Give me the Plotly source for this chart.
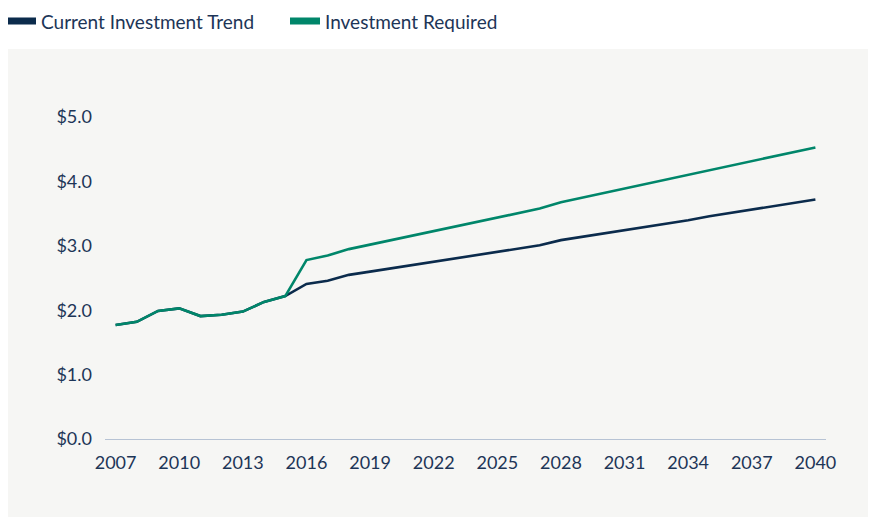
import plotly.graph_objects as go

# years shown on the x axis
years = list(range(2007, 2041))

# trillions of dollars
current_trend = [1.77, 1.82, 1.99, 2.03, 1.91, 1.93, 1.98, 2.13, 2.22, 2.41,
                 2.46, 2.55, 2.60, 2.65, 2.70, 2.75, 2.80, 2.86, 2.91, 2.96,
                 3.01, 3.09, 3.14, 3.19, 3.25, 3.30, 3.35, 3.40, 3.46, 3.51,
                 3.56, 3.62, 3.67, 3.72]
required = [1.77, 1.82, 1.99, 2.03, 1.91, 1.93, 1.98, 2.13, 2.22, 2.78,
            2.85, 2.95, 3.02, 3.09, 3.16, 3.23, 3.30, 3.37, 3.44, 3.51,
            3.58, 3.68, 3.75, 3.82, 3.89, 3.96, 4.04, 4.11, 4.18, 4.25,
            4.32, 4.39, 4.46, 4.53]

x_ticks = list(range(2007, 2041, 3))
y_ticks = [0, 1, 2, 3, 4, 5]

NAVY = "#0b2b4c"
GREEN = "#00866a"
TEXT = "#1d3557"
FONT = "Lato"

fig = go.Figure()

# chart lines
fig.add_trace(go.Scatter(x=years, y=current_trend, mode="lines", showlegend=False,
                         line=dict(color=NAVY, width=2.6)))
fig.add_trace(go.Scatter(x=years, y=required, mode="lines", showlegend=False,
                         line=dict(color=GREEN, width=2.6)))

# legend-only entries with thick swatches
fig.add_trace(go.Scatter(x=[None], y=[None], mode="lines", name="Current Investment Trend",
                         line=dict(color=NAVY, width=7)))
fig.add_trace(go.Scatter(x=[None], y=[None], mode="lines", name="Investment Required",
                         line=dict(color=GREEN, width=7)))

# grey panel behind the plot
fig.add_shape(type="rect", xref="paper", yref="paper",
              x0=-0.136, x1=1.2, y0=-0.4, y1=1.1017,
              fillcolor="#f6f6f4", line_width=0, layer="below")

# page body adds an 8px margin, so the figure is 8px smaller than the window
fig.update_layout(
    width=868,
    height=509,
    margin=dict(l=97, r=50, t=77, b=78),
    paper_bgcolor="white",
    plot_bgcolor="rgba(0,0,0,0)",
    font=dict(family=FONT, color=TEXT, size=18),
    legend=dict(orientation="h", xref="container", yref="container",
                x=0, xanchor="left", y=0.974, yanchor="middle", indentation=-7,
                font=dict(size=19, color=TEXT), itemwidth=30, entrywidth=246,
                bgcolor="rgba(0,0,0,0)", traceorder="normal"),
    xaxis=dict(range=[2006.5, 2040.5], tickvals=x_ticks, showgrid=False, zeroline=False,
               showline=True, linecolor="#b7c3d4", linewidth=1.2,
               ticks="", ticklabelstandoff=7, tickfont=dict(size=18)),
    yaxis=dict(range=[0, 5.5], tickvals=y_ticks, tickformat="$.1f", showgrid=False,
               zeroline=False, showline=False, ticks="", ticklabelstandoff=12,
               tickfont=dict(size=18)),
)

fig.write_html("out.html")
